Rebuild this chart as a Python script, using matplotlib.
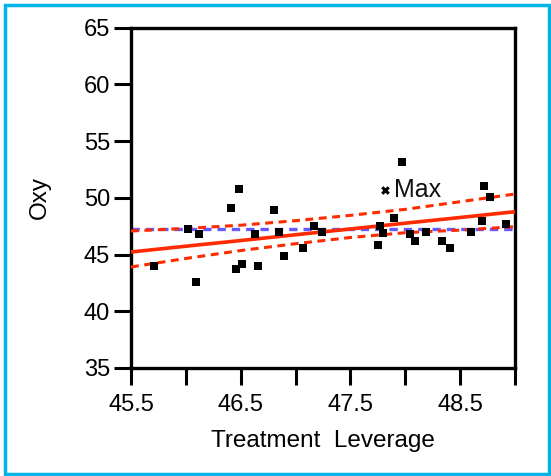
import matplotlib.pyplot as plt
from matplotlib.patches import Rectangle

# Leverage residuals: treatment leverage vs oxy
lev_x = [45.707, 46.020, 46.092, 46.120, 46.409, 46.457, 46.482, 46.512,
         46.630, 46.658, 46.803, 46.846, 46.895, 47.068, 47.168, 47.241,
         47.751, 47.770, 47.794, 47.894, 47.967, 48.040, 48.089, 48.186,
         48.335, 48.405, 48.596, 48.699, 48.715, 48.770, 48.915]
oxy = [43.99, 47.27, 42.60, 46.83, 49.12, 43.72, 50.80, 44.16,
       46.83, 44.01, 48.95, 47.01, 44.89, 45.60, 47.54, 46.98,
       45.86, 47.54, 46.87, 48.24, 53.18, 46.83, 46.16, 47.01,
       46.16, 45.60, 47.01, 47.98, 51.06, 50.09, 47.71]

# labelled point
max_x, max_y = 47.818, 50.68

# fitted line, confidence curves and mean line
curve_x = [45.5, 46.0, 46.5, 47.0, 47.5, 48.0, 48.5, 49.0]
fit_y = [45.22, 45.73, 46.23, 46.74, 47.25, 47.76, 48.26, 48.77]
upper_y = [47.07, 47.30, 47.58, 47.98, 48.45, 48.98, 49.65, 50.33]
lower_y = [43.90, 44.65, 45.35, 45.95, 46.50, 46.92, 47.15, 47.45]
mean_oxy = 47.26

x_ticks = [45.5, 46.0, 46.5, 47.0, 47.5, 48.0, 48.5, 49.0]
x_ticklabels = ['45.5', '', '46.5', '', '47.5', '', '48.5', '']
y_ticks = [35, 40, 45, 50, 55, 60, 65]

plt.rcParams['font.family'] = ['Liberation Sans', 'DejaVu Sans']

fig = plt.figure(figsize=(5.51, 4.76), dpi=100)
ax = fig.add_axes([0.2377, 0.2269, 0.6970, 0.7153])

red = '#ff2a00'
ax.plot([curve_x[0], curve_x[-1]], [mean_oxy, mean_oxy], color='#4a3cff',
        lw=2.4, ls=(0, (2.5, 1.8)), alpha=0.85, zorder=2)
ax.plot(curve_x, upper_y, color=red, lw=2.2, ls=(0, (2.6, 1.8)), zorder=3)
ax.plot(curve_x, lower_y, color=red, lw=2.2, ls=(0, (2.6, 1.8)), zorder=3)
ax.plot(curve_x, fit_y, color=red, lw=2.6, zorder=3)

ax.scatter(lev_x, oxy, marker='s', s=26, color='black', lw=0, zorder=4)
ax.scatter([max_x], [max_y], marker='x', s=22, color='black', lw=2.2, zorder=4)
ax.text(max_x + 0.08, max_y, 'Max', fontsize=18, va='center', ha='left',
        color='#111111', zorder=5)

ax.set_xlim(45.5, 49.0)
ax.set_ylim(35, 65)
ax.set_xticks(x_ticks)
ax.set_xticklabels(x_ticklabels)
ax.set_yticks(y_ticks)
ax.tick_params(axis='both', direction='out', length=12, width=2.2,
               labelsize=17, colors='black')
ax.tick_params(axis='x', pad=7)
ax.tick_params(axis='y', pad=3)
for sp in ax.spines.values():
    sp.set_linewidth(2.4)

ax.set_xlabel('Treatment  Leverage', fontsize=17.5, labelpad=10)
ax.set_ylabel('Oxy', fontsize=17.5, labelpad=24)

# frame around the whole figure
fig.patches.append(Rectangle((0.009, 0.005), 0.988, 0.984, transform=fig.transFigure,
                             fill=False, edgecolor='#00b4e8', lw=2.5))

fig.savefig('out.png', dpi=100)
